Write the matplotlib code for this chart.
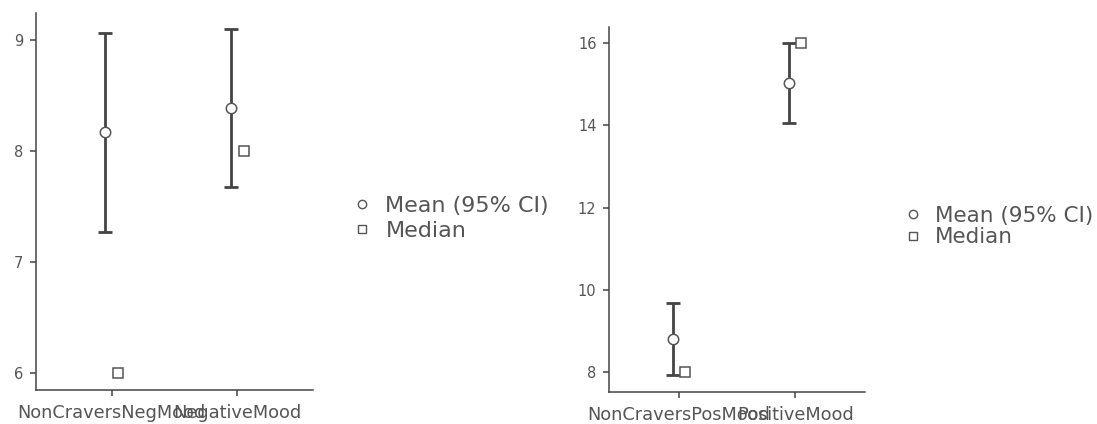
import matplotlib
matplotlib.use("Agg")
import matplotlib.pyplot as plt
from matplotlib.lines import Line2D
import numpy as np

plt.rcParams['font.family'] = ['DejaVu Sans']

# ---- data ----
groups_neg = ['NonCraversNegMood', 'NegativeMood']
mean_neg = [8.17, 8.39]
lo_neg = [7.27, 7.68]
hi_neg = [9.07, 9.10]
median_neg = [6, 8]

groups_pos = ['NonCraversPosMood', 'PositiveMood']
mean_pos = [8.80, 15.03]
lo_pos = [7.92, 14.05]
hi_pos = [9.68, 16.0]
median_pos = [8, 16]

yticks_neg = [6, 7, 8, 9]
yticks_pos = [8, 10, 12, 14, 16]

W, H = 1097, 424
fig = plt.figure(figsize=(W / 100, H / 100), dpi=100)

DARK = '#444444'
GRAY = '#555555'


def panel(rect, groups, mean, lo, hi, med, yticks, ylim, leg_xy, leg_fs, leg_spacing):
    ax = fig.add_axes(rect)
    x = np.arange(len(groups))
    mean = np.array(mean); lo = np.array(lo); hi = np.array(hi)
    ax.errorbar(x - 0.05, mean, yerr=[mean - lo, hi - mean], fmt='none',
                ecolor=DARK, elinewidth=2, capsize=5, capthick=2, zorder=2)
    ax.plot(x - 0.05, mean, 'o', ms=7.5, mfc='white', mec=GRAY, mew=1.1,
            ls='none', zorder=3)
    ax.plot(x + 0.05, med, 's', ms=6.5, mfc='white', mec=GRAY, mew=1.1,
            ls='none', zorder=3)
    ax.set_xlim(-0.6, 1.6)
    ax.set_ylim(*ylim)
    ax.set_xticks(x)
    ax.set_xticklabels(groups, fontsize=12.8, color=GRAY)
    ax.set_yticks(yticks)
    ax.set_yticklabels([str(t) for t in yticks], fontsize=10.5, color=GRAY)
    for s in ['top', 'right']:
        ax.spines[s].set_visible(False)
    for s in ['left', 'bottom']:
        ax.spines[s].set_color(DARK)
        ax.spines[s].set_linewidth(1.1)
    ax.tick_params(axis='both', color=DARK, length=4, width=1.1)
    ax.tick_params(axis='x', pad=6)
    ax.tick_params(axis='y', pad=5)
    handles = [
        Line2D([], [], marker='o', ms=6, mfc='white', mec=GRAY, mew=1, ls='none'),
        Line2D([], [], marker='s', ms=6, mfc='white', mec=GRAY, mew=1, ls='none'),
    ]
    fig.legend(handles, ['Mean (95% CI)', 'Median'], loc='center left',
               bbox_to_anchor=leg_xy, bbox_transform=fig.transFigure,
               frameon=False, fontsize=leg_fs, labelcolor=GRAY,
               handlelength=1.0, handletextpad=0.55, labelspacing=leg_spacing,
               borderpad=0, borderaxespad=0)
    return ax


panel([36 / W, 1 - 390 / H, 277 / W, 377 / H], groups_neg, mean_neg, lo_neg,
      hi_neg, median_neg, yticks_neg, (5.847, 9.246),
      (351 / W, 1 - 218.5 / H), 16, 0.24)
panel([609 / W, 1 - 391.7 / H, 256 / W, 364.7 / H], groups_pos, mean_pos,
      lo_pos, hi_pos, median_pos, yticks_pos, (7.51, 16.4),
      (902 / W, 1 - 226.5 / H), 15.5, 0.08)

fig.savefig('out.png', dpi=100)
